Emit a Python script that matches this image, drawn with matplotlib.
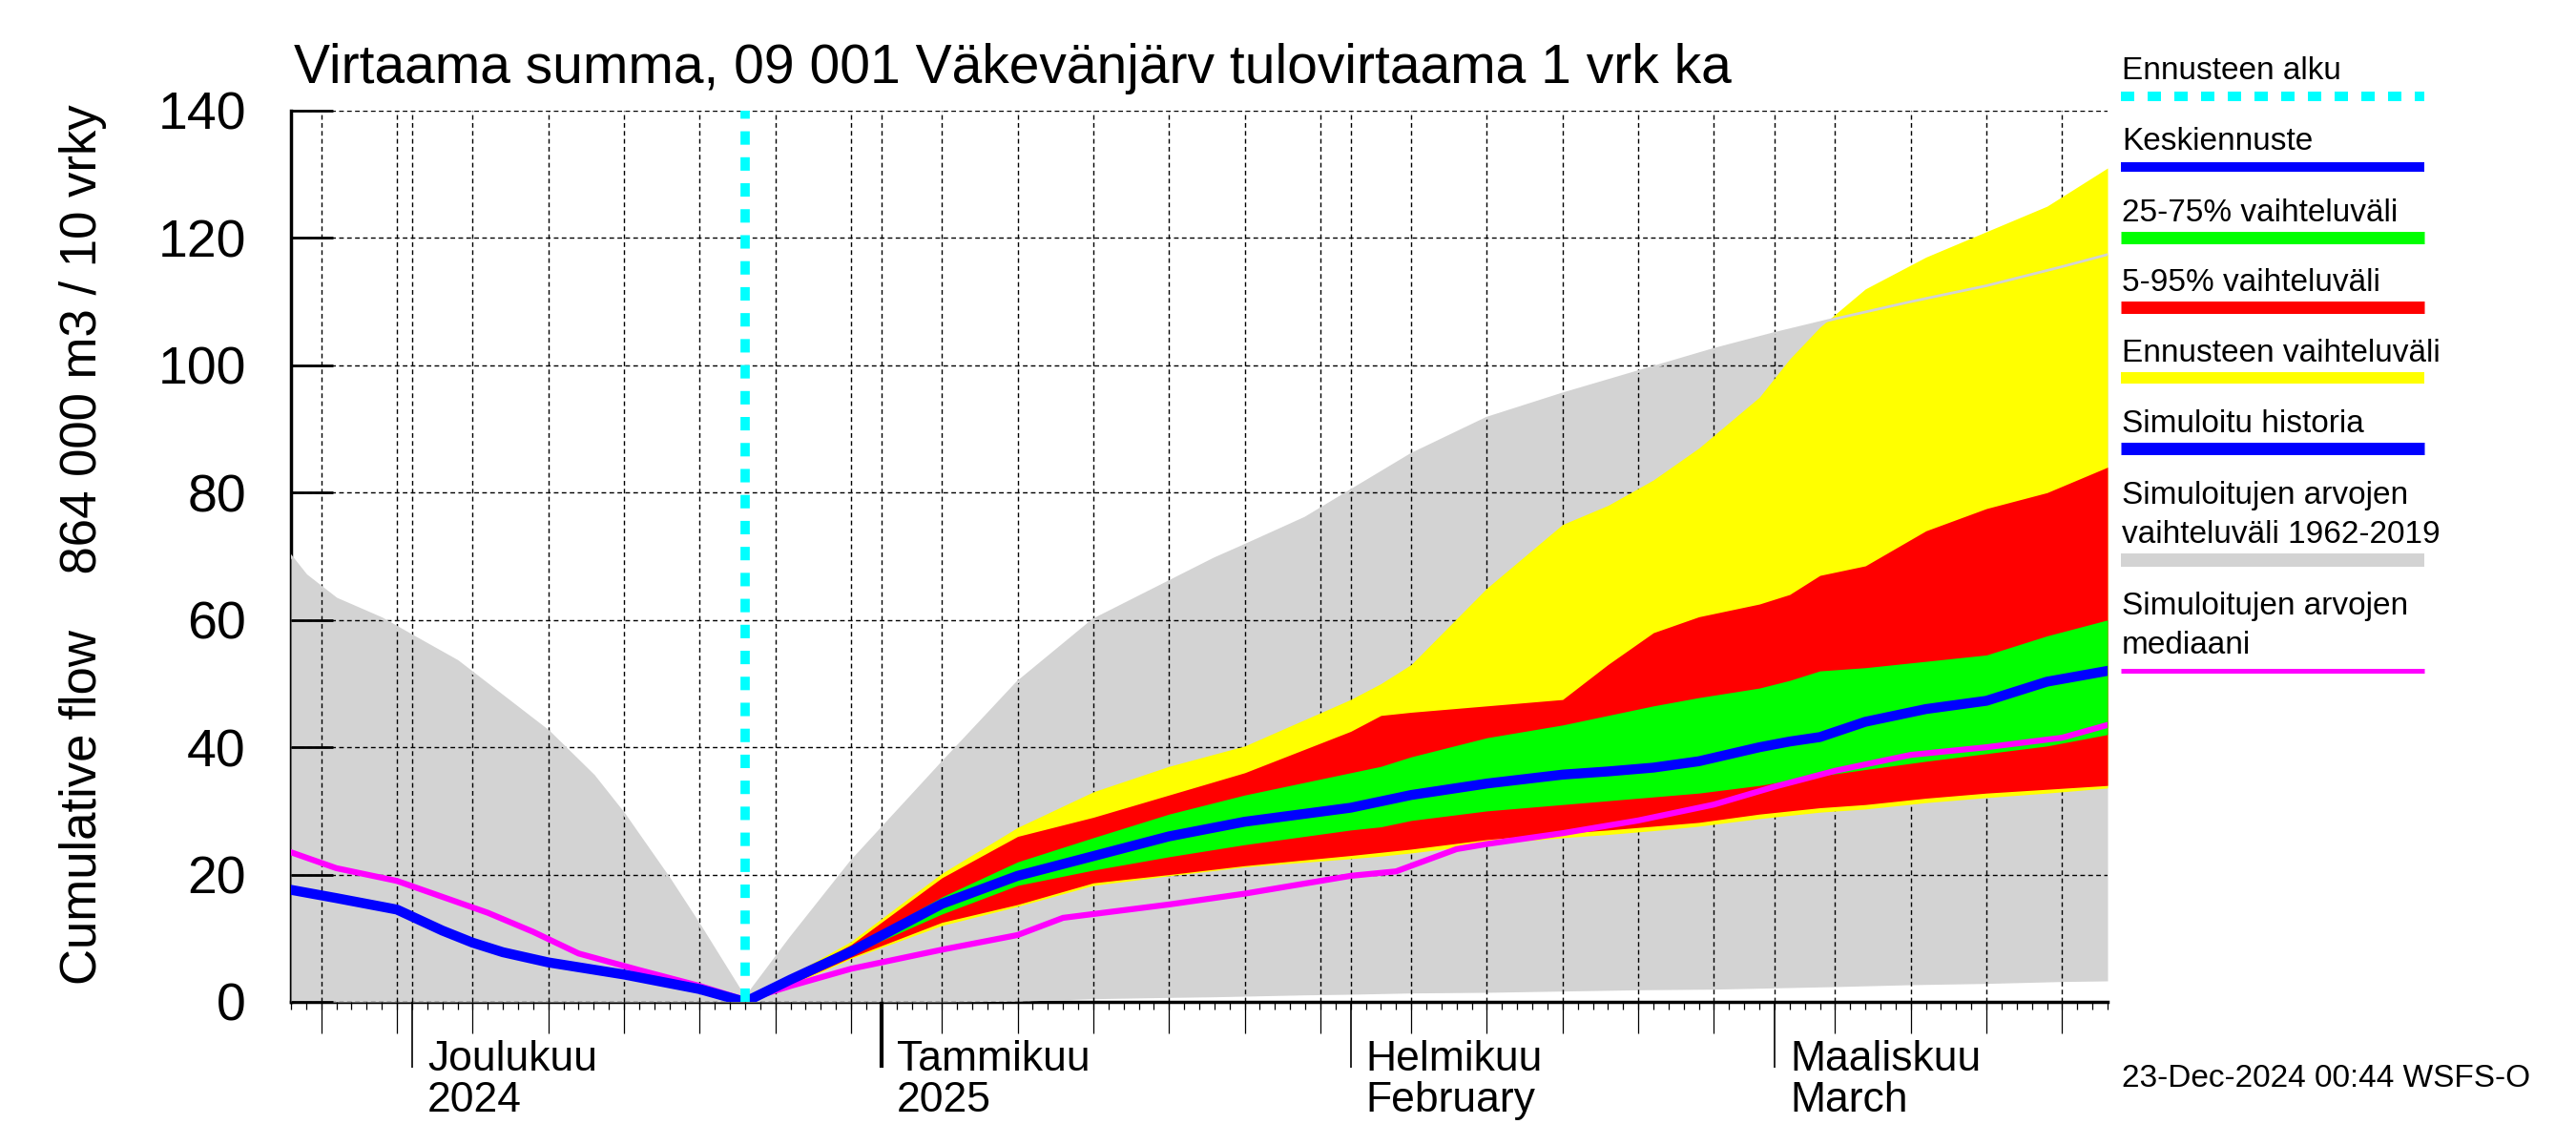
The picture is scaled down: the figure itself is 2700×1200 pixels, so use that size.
"""Cumulative flow forecast chart, 09 001 Väkevänjärv tulovirtaama."""

import matplotlib

matplotlib.use("Agg")
import matplotlib.dates as mdates
import matplotlib.pyplot as plt
import matplotlib.transforms as mtransforms
import pandas as pd
from matplotlib.lines import Line2D

plt.rcParams["font.family"] = ["Liberation Sans", "DejaVu Sans"]

TITLE = "Virtaama summa, 09 001 Väkevänjärv tulovirtaama 1 vrk ka"
YLABEL = "Cumulative flow    864 000 m3 / 10 vrky"
STAMP = "23-Dec-2024 00:44 WSFS-O"

X_START = "2024-11-23"
X_END = "2025-03-23"
FORECAST_START = "2024-12-23"

MONTH_STARTS = ["2024-12-01", "2025-01-01", "2025-02-01", "2025-03-01"]
MONTH_NAMES = ["Joulukuu", "Tammikuu", "Helmikuu", "Maaliskuu"]
MONTH_SUB = ["2024", "2025", "February", "March"]

Y_TICKS = [0, 20, 40, 60, 80, 100, 120, 140]

# simulated range 1962-2019 (grey)
range_dates = ["2024-11-23", "2024-11-24", "2024-11-26", "2024-11-29", "2024-12-01",
               "2024-12-04", "2024-12-07", "2024-12-10", "2024-12-13", "2024-12-15",
               "2024-12-18", "2024-12-20", "2024-12-23", "2024-12-26", "2024-12-30",
               "2025-01-05", "2025-01-10", "2025-01-15", "2025-01-20", "2025-01-23",
               "2025-01-25", "2025-01-29", "2025-02-01", "2025-02-05", "2025-02-10",
               "2025-02-15", "2025-02-20", "2025-02-25", "2025-03-01", "2025-03-05",
               "2025-03-10", "2025-03-15", "2025-03-20", "2025-03-23"]
range_max = [70.0, 67.0, 63.3, 60.2, 57.5, 53.5, 48.0, 42.5, 35.5, 29.5,
             19.3, 12.0, 0.5, 10.0, 22.0, 37.5, 50.2, 60.0, 66.0, 69.6,
             71.7, 76.0, 80.3, 86.0, 91.7, 95.5, 99.0, 102.5, 105.0, 107.3,
             110.0, 112.5, 115.5, 117.4]
range_min = [0.0, 0.0, 0.0, 0.0, 0.0, 0.0, 0.0, 0.0, 0.0, 0.0,
             0.0, 0.0, 0.0, 0.0, 0.0, 0.0, 0.1, 0.5, 0.7, 0.8,
             0.9, 1.1, 1.2, 1.4, 1.5, 1.7, 1.9, 2.0, 2.2, 2.4,
             2.7, 2.9, 3.2, 3.3]

# simulated history (blue, before forecast)
past_dates = ["2024-11-23", "2024-11-26", "2024-11-30", "2024-12-03", "2024-12-05",
              "2024-12-07", "2024-12-10", "2024-12-15", "2024-12-20", "2024-12-23"]
past_sim = [17.6, 16.3, 14.5, 11.2, 9.3, 7.8, 6.2, 4.3, 2.0, 0.0]

# median of simulated values (magenta)
median_dates = ["2024-11-23", "2024-11-26", "2024-11-30", "2024-12-03", "2024-12-06",
                "2024-12-09", "2024-12-12", "2024-12-16", "2024-12-20", "2024-12-23",
                "2024-12-26", "2024-12-30", "2025-01-05", "2025-01-10", "2025-01-13",
                "2025-01-20", "2025-01-25", "2025-02-01", "2025-02-04", "2025-02-08",
                "2025-02-10", "2025-02-15", "2025-02-20", "2025-02-25", "2025-03-01",
                "2025-03-05", "2025-03-10", "2025-03-15", "2025-03-20", "2025-03-23"]
median_vals = [23.5, 21.0, 19.0, 16.5, 14.0, 11.0, 7.6, 5.0, 2.5, 0.3,
               2.5, 5.2, 8.2, 10.5, 13.2, 15.3, 17.0, 19.8, 20.5, 24.0,
               24.8, 26.5, 28.5, 31.0, 33.8, 36.3, 38.8, 40.0, 41.5, 43.5]

# forecast
fc_dates = ["2024-12-23", "2024-12-26", "2024-12-30", "2025-01-05", "2025-01-10",
            "2025-01-15", "2025-01-20", "2025-01-25", "2025-02-01", "2025-02-03",
            "2025-02-05", "2025-02-10", "2025-02-15", "2025-02-18", "2025-02-21",
            "2025-02-24", "2025-02-28", "2025-03-02", "2025-03-04", "2025-03-07",
            "2025-03-11", "2025-03-15", "2025-03-19", "2025-03-23"]
fc_max = [0.0, 4.2, 9.5, 20.2, 27.4, 33.0, 37.0, 40.2, 47.5, 50.0,
          53.0, 65.0, 75.0, 78.0, 82.0, 87.0, 95.0, 101.0, 106.0, 112.0,
          117.0, 121.0, 125.0, 131.0]
fc_p95 = [0.0, 4.0, 9.0, 19.5, 26.0, 29.0, 32.5, 36.0, 42.5, 45.0,
          45.5, 46.5, 47.5, 53.0, 58.0, 60.5, 62.5, 64.0, 67.0, 68.5,
          74.0, 77.5, 80.0, 84.0]
fc_p75 = [0.0, 3.8, 8.5, 16.5, 22.0, 25.8, 29.5, 32.5, 36.0, 37.0,
          38.5, 41.5, 43.5, 45.0, 46.5, 47.8, 49.3, 50.5, 52.0, 52.5,
          53.5, 54.5, 57.5, 60.0]
fc_mean = [0.0, 3.5, 7.9, 15.4, 19.8, 22.9, 26.0, 28.3, 30.5, 31.5,
           32.5, 34.3, 35.7, 36.2, 36.8, 37.8, 40.0, 40.9, 41.6, 44.0,
           46.0, 47.3, 50.3, 52.0]
fc_p25 = [0.0, 3.2, 7.5, 13.8, 18.3, 20.7, 22.8, 24.7, 27.0, 27.5,
          28.5, 30.0, 31.0, 31.6, 32.2, 32.8, 34.0, 34.8, 35.5, 36.5,
          37.8, 39.0, 40.2, 42.0]
fc_p05 = [0.0, 2.8, 7.0, 12.5, 15.3, 18.7, 20.0, 21.4, 23.0, 23.5,
          24.0, 25.5, 26.5, 27.0, 27.6, 28.2, 29.5, 30.0, 30.5, 31.0,
          32.0, 32.8, 33.4, 34.0]
fc_min = [0.0, 2.6, 6.8, 12.0, 15.0, 18.3, 19.8, 21.2, 22.5, 22.9,
          23.4, 24.8, 25.8, 26.3, 26.9, 27.6, 28.8, 29.3, 29.8, 30.3,
          31.3, 32.1, 32.8, 33.6]

GREY = "#d3d3d3"
YELLOW = "#ffff00"
RED = "#ff0000"
GREEN = "#00ff00"
BLUE = "#0000ff"
MAGENTA = "#ff00ff"
CYAN = "#00ffff"

W, H = 2700, 1200


def fx(px):
    return px / W


def fy(py):
    return 1 - py / H


fig = plt.figure(figsize=(27, 12), dpi=100)
ax = fig.add_axes([fx(305), fy(1050), fx(1904), 934 / H])

rd = pd.to_datetime(range_dates)
fd = pd.to_datetime(fc_dates)

ax.fill_between(rd, range_min, range_max, color=GREY, lw=0, zorder=1)
ax.fill_between(fd, fc_min, fc_max, color=YELLOW, lw=0, zorder=2)
ax.fill_between(fd, fc_p05, fc_p95, color=RED, lw=0, zorder=2.1)
ax.fill_between(fd, fc_p25, fc_p75, color=GREEN, lw=0, zorder=2.2)
ax.plot(rd, range_max, color=GREY, lw=2, zorder=2.3)

ax.plot(pd.to_datetime(median_dates), median_vals, color=MAGENTA, lw=4.5, zorder=3)
ax.plot(pd.to_datetime(past_dates), past_sim, color=BLUE, lw=7.5, zorder=3.1)
ax.plot(fd, fc_mean, color=BLUE, lw=7.5, zorder=3.1)
ax.vlines(pd.to_datetime(FORECAST_START), 0, 140, color=CYAN, lw=7,
          linestyles=[(0, (1.45, 1.35))], zorder=3.5)

ax.set_xlim(pd.to_datetime(X_START), pd.to_datetime(X_END))
ax.set_ylim(0, 140)
ax.set_axisbelow("line")

for side in ("top", "right"):
    ax.spines[side].set_visible(False)
for side in ("left", "bottom"):
    ax.spines[side].set_linewidth(2.5)
    ax.spines[side].set_zorder(0.9)

ax.set_yticks(Y_TICKS)
ax.set_yticklabels([str(v) for v in Y_TICKS])
ax.tick_params(axis="y", direction="in", length=32, width=2, labelsize=40, pad=34)

ax.set_xticks(pd.to_datetime(MONTH_STARTS))
ax.set_xticklabels([])
ax.xaxis.set_minor_locator(mdates.DayLocator(bymonthday=[5, 10, 15, 20, 25, 30]))
ax.tick_params(axis="x", which="major", direction="out", length=50, width=1.2)
ax.tick_params(axis="x", which="minor", direction="out", length=24, width=0.9)
ax.xaxis.get_major_ticks()[1].tick1line.set_markeredgewidth(3)

grid_style = dict(color="black", lw=1.0, ls=(0, (3.5, 2.5)))
ax.grid(True, axis="both", which="major", **grid_style)
ax.grid(True, axis="x", which="minor", **grid_style)

# daily ticks on a twin axis
ax_days = ax.twiny()
ax_days.set_xlim(ax.get_xlim())
ax_days.xaxis.set_ticks_position("bottom")
ax_days.xaxis.set_major_locator(mdates.DayLocator())
ax_days.tick_params(axis="x", direction="out", length=6, width=0.9,
                    labelbottom=False, labeltop=False)
for sp in ax_days.spines.values():
    sp.set_visible(False)

# month labels below the axis
base = mtransforms.blended_transform_factory(ax.transData, ax.transAxes)
for start, name, sub in zip(MONTH_STARTS, MONTH_NAMES, MONTH_SUB):
    x = pd.to_datetime(start)
    t1 = mtransforms.offset_copy(base, fig=fig, x=16, y=-72, units="dots")
    t2 = mtransforms.offset_copy(base, fig=fig, x=16, y=-115, units="dots")
    ax.text(x, 0, name, transform=t1, fontsize=32, va="baseline", ha="left")
    ax.text(x, 0, sub, transform=t2, fontsize=32, va="baseline", ha="left")

fig.text(fx(308), fy(87), TITLE, fontsize=41, va="baseline", ha="left")
fig.text(fx(87), fy(571), YLABEL, fontsize=38, rotation=90, ha="center", va="center")
fig.text(fx(2224), fy(1139), STAMP, fontsize=24, va="baseline", ha="left")

# legend drawn on the right
legend_items = [
    ("Ennusteen alku", 83, 101, CYAN, 10, True),
    ("Keskiennuste", 157, 175, BLUE, 10, False),
    ("25-75% vaihteluväli", 232, 249, GREEN, 13, False),
    ("5-95% vaihteluväli", 305, 322, RED, 13, False),
    ("Ennusteen vaihteluväli", 379, 396, YELLOW, 12, False),
    ("Simuloitu historia", 453, 470, BLUE, 13, False),
    ("Simuloitujen arvojen\nvaihteluväli 1962-2019", 528, 587, GREY, 14, False),
    ("Simuloitujen arvojen\nmediaani", 644, 703, MAGENTA, 5, False),
]
for label, base_y, line_y, color, thick, dashed in legend_items:
    lines = label.split("\n")
    for i, part in enumerate(lines):
        fig.text(fx(2224), fy(base_y + 41 * i), part, fontsize=24,
                 va="baseline", ha="left")
    lw_pt = thick * 0.72
    ln = Line2D([fx(2223), fx(2541)], [fy(line_y), fy(line_y)],
                transform=fig.transFigure, color=color, lw=lw_pt,
                solid_capstyle="butt")
    if dashed:
        ln.set_linestyle((0, (14 / thick, 14 / thick)))
        ln.set_dash_capstyle("butt")
    fig.add_artist(ln)

fig.savefig("out.png", dpi=100)
